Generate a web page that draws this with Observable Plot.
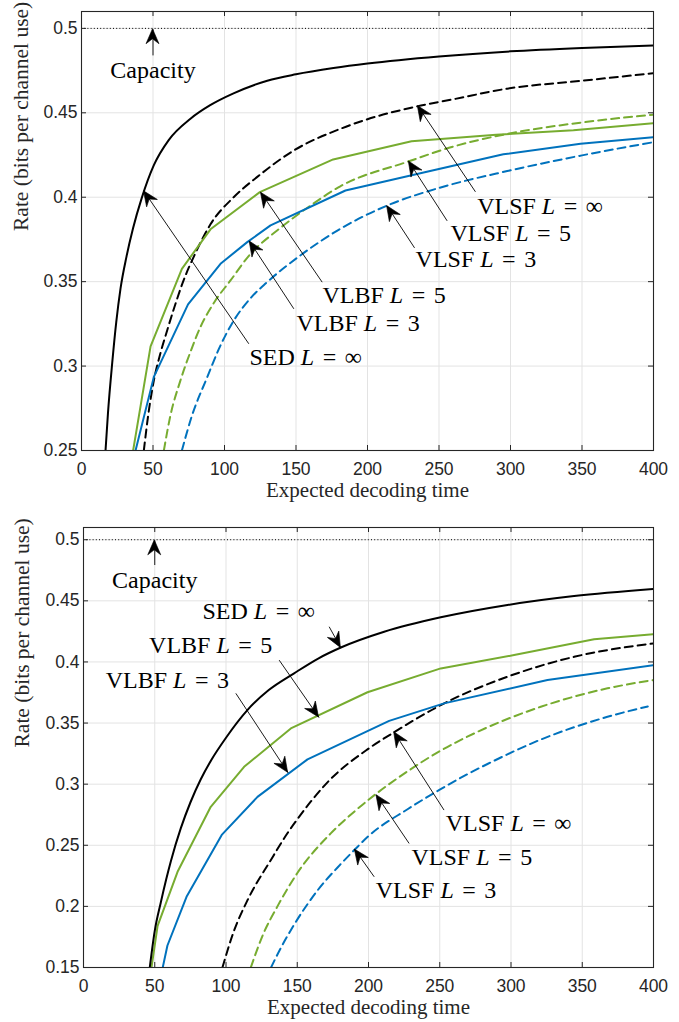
<!DOCTYPE html>
<html>
<head>
<meta charset="utf-8">
<script src="https://cdn.jsdelivr.net/npm/d3@7"></script>
<script src="https://cdn.jsdelivr.net/npm/@observablehq/plot@0.6"></script>
<style>
  body { margin: 0; background: #fff; }
  #chart { width: 679px; }
  #chart svg { display: block; background: #fff; }
</style>
</head>
<body>
<div id="chart"></div>
<script>
// ---------- tick labels ----------
const xTicks = [0, 50, 100, 150, 200, 250, 300, 350, 400];
const topYTicks = [0.25, 0.3, 0.35, 0.4, 0.45, 0.5];
const bottomYTicks = [0.15, 0.2, 0.25, 0.3, 0.35, 0.4, 0.45, 0.5];
const capacity = 0.5;
const xLabel = "Expected decoding time";
const yLabel = "Rate (bits per channel use)";

// ---------- top panel series: [expected decoding time, rate] ----------
const topSED = [[16.8,0.25],[18.5,0.272],[21.5,0.302],[24.3,0.326],[27.3,0.346],[31.5,0.365],[36,0.3815],[42.1,0.3995],[50.6,0.419],[61.1,0.434],[76.2,0.4465],[90,0.4545],[106.3,0.4615],[129.9,0.469],[150,0.4728],[176.2,0.4765],[200,0.4792],[250,0.4834],[300,0.4864],[350,0.4884],[400,0.4899]];
const topVLSFinf = [[43.6,0.25],[46.5,0.27],[50.6,0.2915],[55,0.307],[59.9,0.3211],[65,0.335],[70.4,0.3485],[80,0.3675],[90.2,0.384],[106.4,0.40],[122.7,0.4119],[148.5,0.4277],[181,0.4405],[200,0.4462],[234.7,0.4538],[260,0.458],[297.7,0.4643],[350,0.469],[400,0.4735]];
const topVLBF5 = [[36.1,0.25],[48.3,0.3117],[70.2,0.3576],[90.2,0.381],[124.7,0.403],[176,0.4224],[230.8,0.4332],[290,0.437],[344,0.4396],[400,0.4439]];
const topVLBF3 = [[37.8,0.25],[50.6,0.2936],[74.5,0.3365],[97.2,0.3606],[115.9,0.3734],[132.2,0.3833],[184.6,0.404],[240,0.4148],[295,0.4254],[349,0.4317],[400,0.4356]];
const topVLSF5 = [[57.6,0.25],[62,0.27],[69.2,0.2915],[76,0.308],[83.2,0.3232],[93,0.338],[104.2,0.3507],[118.2,0.3665],[136.8,0.3803],[160,0.395],[181,0.4065],[228,0.421],[260,0.43],[297.7,0.4375],[350,0.4443],[400,0.4489]];
const topVLSF3 = [[70.2,0.25],[77,0.27],[87.9,0.2934],[96,0.31],[106.5,0.327],[118,0.34],[129.8,0.3497],[153,0.3655],[181,0.3813],[213.8,0.3951],[250,0.4055],[297.7,0.4155],[350,0.4248],[400,0.4326]];

// ---------- bottom panel series ----------
const botSED = [[46.5,0.15],[50,0.18],[54.2,0.203],[58,0.222],[61.3,0.237],[68.3,0.264],[75,0.285],[82.3,0.304],[89.8,0.32],[100,0.338],[115,0.3606],[130,0.377],[147.8,0.3907],[165,0.403],[180.6,0.4118],[211,0.4247],[250.7,0.4365],[297.5,0.4466],[344.3,0.4539],[400,0.4597]];
const botVLSFinf = [[97.5,0.15],[105,0.178],[115.1,0.2051],[131.4,0.2378],[143.2,0.26],[150.2,0.2715],[171.2,0.3015],[199.3,0.3285],[218,0.3425],[250.7,0.3647],[297.5,0.3879],[344.3,0.4042],[400,0.4152]];
const botVLBF5 = [[47.7,0.15],[52,0.184],[66,0.2283],[89.3,0.2815],[112.7,0.3142],[145.5,0.3456],[199.3,0.3752],[250.7,0.3947],[302.2,0.4056],[358.3,0.4185],[400,0.4226]];
const botVLBF3 = [[55.6,0.15],[58.9,0.168],[72.3,0.2078],[97,0.2585],[122.1,0.2896],[157.2,0.3203],[214.5,0.3518],[253,0.3661],[325.6,0.3852],[400,0.3974]];
const botVLSF5 = [[117.4,0.15],[126,0.177],[136.1,0.2],[150.2,0.2275],[173.5,0.2597],[190,0.2775],[205.8,0.2925],[227.4,0.3105],[250,0.327],[274.1,0.3415],[320.9,0.3633],[367.7,0.3784],[400,0.3852]];
const botVLSF3 = [[131.6,0.15],[138,0.165],[147.8,0.185],[164.2,0.213],[180,0.234],[190.4,0.2465],[200,0.2575],[227.4,0.2795],[250,0.2955],[270,0.3085],[283.5,0.3165],[320.9,0.3365],[367.7,0.3551],[396,0.3636]];

// ---------- annotations (data coordinates) ----------
const topNotes = [
  {label: "SED L = ∞",  x: 117.5, y: 0.3053, tailX: 117,   tailY: 0.3132, tipX: 43.7,  tipY: 0.4035},
  {label: "VLBF L = 5", x: 168.5, y: 0.3418, tailX: 168.3, tailY: 0.3497, tipX: 125.5, tipY: 0.4027},
  {label: "VLBF L = 3", x: 150.3, y: 0.3254, tailX: 148.5, tailY: 0.3339, tipX: 117.6, tipY: 0.3738},
  {label: "VLSF L = ∞", x: 276.7, y: 0.3948, tailX: 275.5, tailY: 0.4032, tipX: 235.2, tipY: 0.4540},
  {label: "VLSF L = 5", x: 258,   y: 0.3789, tailX: 255.7, tailY: 0.3860, tipX: 228.9, tipY: 0.4212},
  {label: "VLSF L = 3", x: 233.6, y: 0.3632, tailX: 232.9, tailY: 0.3700, tipX: 213.7, tipY: 0.3948}
];
const topCap = {label: "Capacity", x: 50, y: 0.4751, tailX: 50, tailY: 0.484, tipX: 50, tipY: 0.4995};

const botNotes = [
  {label: "SED L = ∞",  x: 83.5,  y: 0.4411, tailX: 172.4, tailY: 0.4288, tipX: 180.6, tipY: 0.4115},
  {label: "VLBF L = 5", x: 46,    y: 0.4138, tailX: 137.3, tailY: 0.4015, tipX: 165.3, tipY: 0.3545},
  {label: "VLBF L = 3", x: 15.6,  y: 0.3852, tailX: 106.9, tailY: 0.3743, tipX: 143.6, tipY: 0.3093},
  {label: "VLSF L = ∞", x: 254.2, y: 0.2679, tailX: 253,   tailY: 0.2788, tipX: 218,   tipY: 0.3425},
  {label: "VLSF L = 5", x: 230.2, y: 0.2405, tailX: 228.5, tailY: 0.2515, tipX: 205.6, tipY: 0.2910},
  {label: "VLSF L = 3", x: 205.1, y: 0.2133, tailX: 204,   tailY: 0.2242, tipX: 190.4, tipY: 0.2465}
];
const botCap = {label: "Capacity", x: 50, y: 0.4664, tailX: 50, tailY: 0.4793, tipX: 50, tipY: 0.4995};

// ---------- styling ----------
const BLUE = "#0072BD", GREEN = "#77AC30", BLACK = "#000000";
const AXIS = "#262626", GRID = "#e3e3e3";
const DASH = "8,5";
const SERIF = "'Liberation Serif', 'Times New Roman', serif";
const SANS = "'Liberation Sans', Arial, Helvetica, sans-serif";

function styled(top) {
  return top ? [
    {data: topVLSF3, color: BLUE, dash: DASH, curve: "monotone-x"},
    {data: topVLSF5, color: GREEN, dash: DASH, curve: "monotone-x"},
    {data: topVLSFinf, color: BLACK, dash: DASH, curve: "monotone-x"},
    {data: topVLBF3, color: BLUE, dash: null, curve: "linear"},
    {data: topVLBF5, color: GREEN, dash: null, curve: "linear"},
    {data: topSED, color: BLACK, dash: null, curve: "monotone-x"}
  ] : [
    {data: botVLSF3, color: BLUE, dash: DASH, curve: "monotone-x"},
    {data: botVLSF5, color: GREEN, dash: DASH, curve: "monotone-x"},
    {data: botVLSFinf, color: BLACK, dash: DASH, curve: "monotone-x"},
    {data: botVLBF3, color: BLUE, dash: null, curve: "linear"},
    {data: botVLBF5, color: GREEN, dash: null, curve: "linear"},
    {data: botSED, color: BLACK, dash: null, curve: "monotone-x"}
  ];
}

// filled notched arrowheads drawn through the plot's own scales
function arrowHeads(notes) {
  return (index, scales) => {
    const g = d3.create("svg:g");
    for (const n of notes) {
      const x1 = scales.x(n.tailX), y1 = scales.y(n.tailY);
      const x2 = scales.x(n.tipX), y2 = scales.y(n.tipY);
      const a = Math.atan2(y2 - y1, x2 - x1) * 180 / Math.PI;
      g.append("path")
        .attr("d", "M0,0L-15,-6.5L-10,0L-15,6.5Z")
        .attr("fill", "#000")
        .attr("stroke", "#000")
        .attr("stroke-width", 0.6)
        .attr("stroke-linejoin", "miter")
        .attr("transform", `translate(${x2},${y2}) rotate(${a})`);
    }
    return g.node();
  };
}

function italicize(svg) {
  svg.querySelectorAll("text").forEach(t => {
    const m = t.textContent.match(/^(.*) L = (.*)$/);
    if (!m) return;
    t.textContent = "";
    const add = (s, italic, dx) => {
      const ts = document.createElementNS("http://www.w3.org/2000/svg", "tspan");
      ts.textContent = s;
      if (italic) ts.setAttribute("font-style", "italic");
      if (dx) ts.setAttribute("dx", dx);
      t.appendChild(ts);
    };
    add(m[1] + " ", false);
    add("L", true);
    add("=", false, 8.5);
    add(m[2], false, 8.5);
  });
}

function panel({top, yDomain, yTicks, notes, cap, height, mt, mb, ml, mr, yLabelDx, xLabelDy}) {
  const width = 679;
  const plotW = width - ml - mr;
  const plotH = height - mt - mb;
  const tk = 5;
  const allNotes = [...notes, cap];
  const svg = Plot.plot({
    width, height,
    marginTop: mt, marginBottom: mb, marginLeft: ml, marginRight: mr,
    style: {fontFamily: SANS, fontSize: "17.5px", color: AXIS, background: "#fff", overflow: "visible"},
    x: {domain: [0, 400], ticks: xTicks, tickSize: 0, tickPadding: 12, label: null},
    y: {domain: yDomain, ticks: yTicks, tickSize: 0, tickPadding: 4, label: null,
        tickFormat: d => String(+d.toFixed(2))},
    marks: [
      Plot.ruleX(xTicks, {stroke: GRID, strokeWidth: 1}),
      Plot.ruleY(yTicks, {stroke: GRID, strokeWidth: 1}),
      ...styled(top).map(s => Plot.line(s.data, {
        x: d => d[0], y: d => d[1], stroke: s.color, strokeWidth: 2,
        strokeDasharray: s.dash, curve: s.curve, clip: true
      })),
      Plot.ruleY([capacity], {stroke: "#000", strokeWidth: 1, strokeDasharray: "1,2.2"}),
      Plot.link(allNotes, {x1: "tailX", y1: "tailY", x2: "tipX", y2: "tipY", stroke: "#000", strokeWidth: 0.9}),
      arrowHeads(allNotes),
      Plot.text(notes, {x: "x", y: "y", text: "label", textAnchor: "start", fontFamily: SERIF, fontSize: 24, fill: "#000", style: "letter-spacing:0.6px"}),
      Plot.text([cap], {x: "x", y: "y", text: "label", textAnchor: "middle", fontFamily: SERIF, fontSize: 24, fill: "#000", style: "letter-spacing:0.5px"}),
      Plot.text([xLabel], {text: d => d, frameAnchor: "bottom", dy: xLabelDy, fontFamily: SERIF, fontSize: 21, fill: AXIS}),
      Plot.text([yLabel], {text: d => d, frameAnchor: "left", rotate: -90, dx: yLabelDx, fontFamily: SERIF, fontSize: 21.5, fill: AXIS}),
      Plot.frame({stroke: AXIS, strokeWidth: 1.1}),
      Plot.ruleX(xTicks, {stroke: AXIS, strokeWidth: 1, insetTop: plotH - tk}),
      Plot.ruleX(xTicks, {stroke: AXIS, strokeWidth: 1, insetBottom: plotH - tk}),
      Plot.ruleY(yTicks, {stroke: AXIS, strokeWidth: 1, insetRight: plotW - tk}),
      Plot.ruleY(yTicks, {stroke: AXIS, strokeWidth: 1, insetLeft: plotW - tk})
    ]
  });
  italicize(svg);
  return svg;
}

const chart = document.getElementById("chart");
chart.appendChild(panel({
  top: true, yDomain: [0.25, 0.51], yTicks: topYTicks, notes: topNotes, cap: topCap,
  height: 510, mt: 11, mb: 60, ml: 81, mr: 26, yLabelDx: -60, xLabelDy: 46
}));
chart.appendChild(panel({
  top: false, yDomain: [0.15, 0.51], yTicks: bottomYTicks, notes: botNotes, cap: botCap,
  height: 512, mt: 17, mb: 55, ml: 83, mr: 26, yLabelDx: -61, xLabelDy: 46
}));
</script>
</body>
</html>
